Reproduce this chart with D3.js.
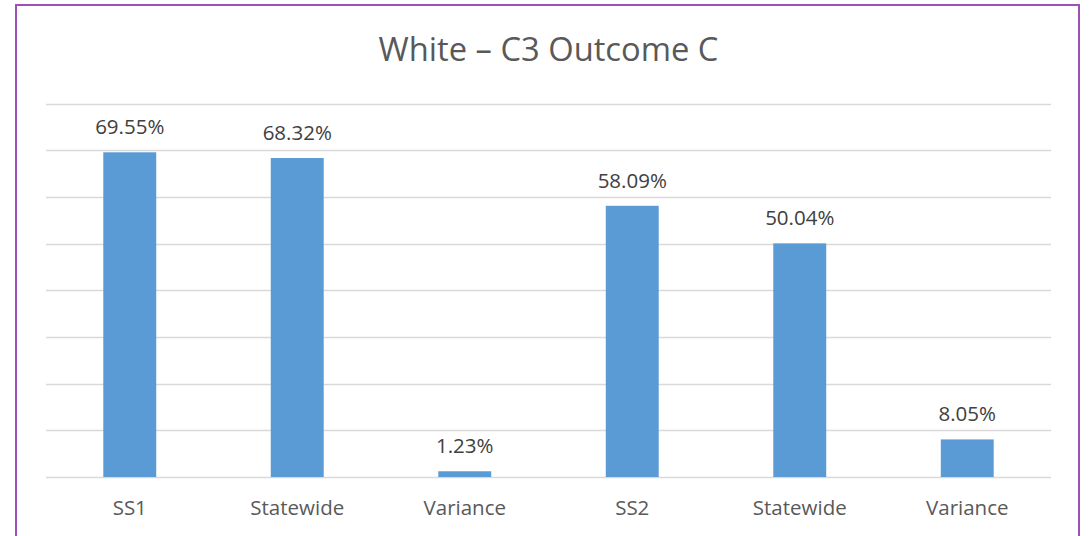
<!DOCTYPE html>
<html><head><meta charset="utf-8">
<script src="https://cdn.jsdelivr.net/npm/d3@7"></script>
<style>body{margin:0;background:#fff}svg{display:block}</style>
</head><body>
<svg id="c" width="1089" height="536"></svg>
<script>
const categories = ["SS1","Statewide","Variance","SS2","Statewide","Variance"];
const values = [69.55, 68.32, 1.23, 58.09, 50.04, 8.05];
const yTicks = [0,10,20,30,40,50,60,70,80];
const title = "White \u2013 C3 Outcome C";

const svg = d3.select("#c");
const font = "'Open Sans', sans-serif";
const L = 46, R = 1051, T = 103.5, B = 477;

svg.append("rect").attr("x",16).attr("y",5).attr("width",1063).attr("height",560)
  .attr("fill","#fff").attr("stroke","#9e4fb8").attr("stroke-width",2);

const x = d3.scaleBand().domain(d3.range(categories.length)).range([L,R])
  .paddingInner(0.684).paddingOuter(0.342);
const y = d3.scaleLinear().domain([0,80]).range([B,T]);

svg.append("g").selectAll("line").data(yTicks).join("line")
  .attr("x1",L).attr("x2",R).attr("y1",d=>Math.round(y(d))+0.5).attr("y2",d=>Math.round(y(d))+0.5)
  .attr("stroke","#d9d9d9").attr("stroke-width",1.3);

svg.append("g").selectAll("rect").data(values).join("rect")
  .attr("x",(d,i)=>x(i)).attr("width",x.bandwidth())
  .attr("y",d=>y(d)).attr("height",d=>B-y(d)).attr("fill","#5b9bd5");

svg.append("g").selectAll("text").data(values).join("text")
  .attr("x",(d,i)=>x(i)+x.bandwidth()/2).attr("y",d=>y(d)-18)
  .attr("text-anchor","middle").attr("font-family",font).attr("font-size",20.5)
  .attr("fill","#404040").text(d=>d.toFixed(2)+"%");

svg.append("g").selectAll("text").data(categories).join("text")
  .attr("x",(d,i)=>x(i)+x.bandwidth()/2).attr("y",B+38)
  .attr("text-anchor","middle").attr("font-family",font).attr("font-size",20.5)
  .attr("fill","#595959").text(d=>d);

const t = svg.append("text").attr("x",(L+R)/2).attr("y",61).attr("text-anchor","middle")
  .attr("font-family",font).attr("font-size",34).attr("fill","#595959").text(title);
const w = t.node().getComputedTextLength();
t.attr("font-size", 34*340/w);
</script>
</body></html>
